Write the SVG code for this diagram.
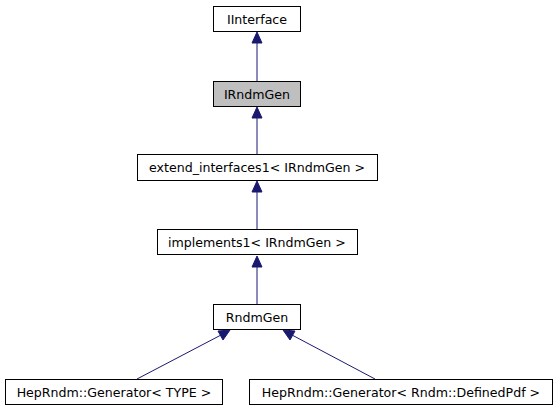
<svg xmlns="http://www.w3.org/2000/svg" width="559" height="411" viewBox="0 0 559 411">
<style>
.n rect{fill:#fff;stroke:#000;stroke-width:1}
.n text{font-family:"DejaVu Sans",sans-serif;font-size:12.6px;text-anchor:middle;fill:#000}
.e{stroke:#191970;stroke-width:1;fill:none}
.h{fill:#191970;stroke:#191970}
</style>
<rect width="559" height="411" fill="#fff"/>
<g id="connectors">
<line class="e" x1="257" y1="81" x2="257" y2="42"/>
<polygon class="h" points="257,32 262,43 252,43"/>
<line class="e" x1="257" y1="154" x2="257" y2="117"/>
<polygon class="h" points="257,107 262,118 252,118"/>
<line class="e" x1="257" y1="229" x2="257" y2="191"/>
<polygon class="h" points="257,181 262,192 252,192"/>
<line class="e" x1="257" y1="304" x2="257" y2="266"/>
<polygon class="h" points="257,256 262,267 252,267"/>
<line class="e" x1="137" y1="379" x2="221" y2="335"/>
<polygon class="h" points="230,330 223,340 218,331"/>
<line class="e" x1="375" y1="379" x2="292" y2="335"/>
<polygon class="h" points="283,330 295,331 290,340"/>
</g>
<g id="IInterface" class="n"><rect x="213.5" y="6.5" width="87" height="25"/><text x="257" y="23.5">IInterface</text></g>
<g id="IRndmGen" class="n"><rect x="213.5" y="81.5" width="87" height="25" style="fill:#bfbfbf"/><text x="257" y="98.5">IRndmGen</text></g>
<g id="extend_interfaces1" class="n"><rect x="137.5" y="154.5" width="240" height="26"/><text x="257" y="172">extend_interfaces1&lt; IRndmGen &gt;</text></g>
<g id="implements1" class="n"><rect x="157.5" y="229.5" width="200" height="25"/><text x="257" y="246.5">implements1&lt; IRndmGen &gt;</text></g>
<g id="RndmGen" class="n"><rect x="213.5" y="304.5" width="87" height="25"/><text x="257" y="321.5">RndmGen</text></g>
<g id="HepRndmGeneratorTYPE" class="n"><rect x="5.5" y="379.5" width="217" height="25"/><text x="114" y="396.5">HepRndm::Generator&lt; TYPE &gt;</text></g>
<g id="HepRndmGeneratorDefinedPdf" class="n"><rect x="249.5" y="379.5" width="303" height="25"/><text x="401" y="396.5">HepRndm::Generator&lt; Rndm::DefinedPdf &gt;</text></g>
</svg>
